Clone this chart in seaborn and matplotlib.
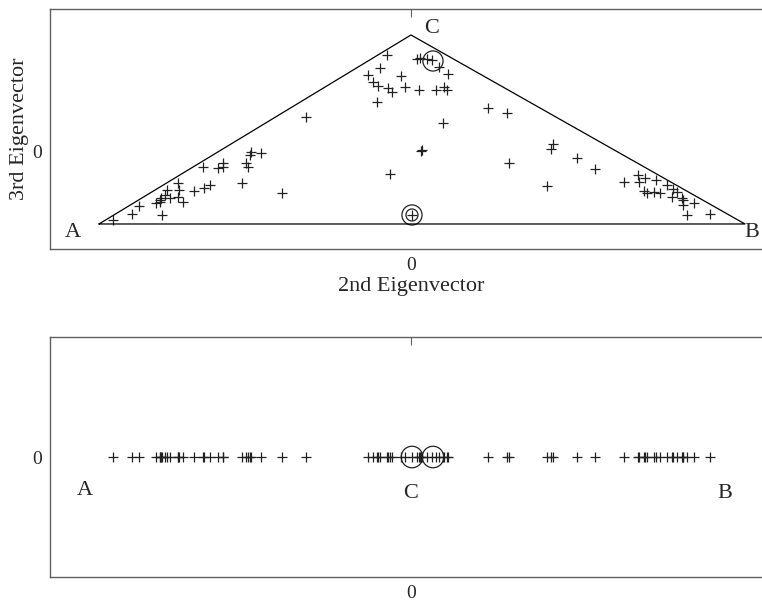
import matplotlib
matplotlib.use("Agg")
import matplotlib.pyplot as plt
import seaborn as sns
import numpy as np
import pandas as pd

# ---- data (2nd / 3rd eigenvector coordinates) ----
ev2 = [-0.298, -0.279, -0.272, -0.255, -0.251, -0.250, -0.251, -0.249, -0.246, -0.244,
       -0.241, -0.233, -0.232, -0.233, -0.228, -0.217, -0.207, -0.201, -0.208, -0.193,
       -0.188, -0.188, -0.169, -0.165, -0.163, -0.161, -0.160, -0.150, -0.129, -0.105,
       -0.024, -0.031, -0.043, -0.038, -0.033, -0.023, -0.019, -0.010, -0.006, -0.034,
       0.006, 0.009, 0.016, 0.021, 0.028, 0.037, 0.008, 0.025, 0.033, 0.036,
       0.032, 0.011, 0.010, -0.021, 0.001,
       0.077, 0.096, 0.098, 0.142, 0.140, 0.136, 0.166, 0.184, 0.213, 0.227,
       0.228, 0.234, 0.233, 0.236, 0.243, 0.245, 0.249, 0.256, 0.262, 0.261,
       0.266, 0.271, 0.272, 0.272, 0.283, 0.276, 0.299]
ev3 = [-0.068, -0.062, -0.054, -0.051, -0.048, -0.046, -0.050, -0.063, -0.043, -0.038,
       -0.046, -0.031, -0.038, -0.045, -0.050, -0.039, -0.036, -0.033, -0.015, -0.016,
       -0.011, -0.015, -0.031, -0.011, -0.015, -0.003, 0.000, -0.001, -0.041, 0.035,
       0.097, 0.084, 0.077, 0.070, 0.066, 0.064, 0.060, 0.076, 0.065, 0.050,
       0.093, 0.094, 0.093, 0.092, 0.085, 0.078, 0.062, 0.062, 0.065, 0.062,
       0.029, 0.002, 0.001, -0.022, -0.063,
       0.044, 0.039, -0.011, 0.008, 0.003, -0.034, -0.006, -0.017, -0.030, -0.023,
       -0.030, -0.026, -0.039, -0.041, -0.040, -0.028, -0.041, -0.033, -0.037, -0.045,
       -0.040, -0.046, -0.048, -0.053, -0.051, -0.063, -0.062]

# triangle vertices A, C, B
vert_names = ["A", "C", "B"]
vert_x = [-0.312, 0.000, 0.334]
vert_y = [-0.072, 0.117, -0.072]

# highlighted points
circ_x = [0.022]
circ_y = [0.091]
dbl_x = [0.001]
dbl_y = [-0.063]
bottom_circ_x = [0.001, 0.022]

# ---- styling ----
sns.set_theme(style="white")
plt.rcParams["font.family"] = ["Liberation Serif", "DejaVu Serif"]
plt.rcParams["mathtext.fontset"] = "stix"

fig = plt.figure(figsize=(7.62, 6.02), dpi=100)
ax1 = fig.add_axes([0.0656, 0.5864, 0.9475, 0.3987])
ax2 = fig.add_axes([0.0656, 0.0415, 0.9475, 0.3987])

spine_col = "#606060"
for ax in (ax1, ax2):
    for s in ax.spines.values():
        s.set_color(spine_col)
        s.set_linewidth(1.0)
    ax.tick_params(direction="in", length=6, width=0.8, color=spine_col,
                   top=True, right=True, labelsize=14, pad=6)
    ax.set_xlim(-0.361, 0.361)
    ax.set_xticks([0])
    ax.set_xticklabels(["0"])
    ax.set_yticks([0])
    ax.set_yticklabels(["0"])

df = pd.DataFrame({"ev2": ev2, "ev3": ev3})

# ---- top panel ----
tri = pd.DataFrame({"x": vert_x + [vert_x[0]], "y": vert_y + [vert_y[0]]})
ax1.plot(tri["x"], tri["y"], color="black", lw=0.9)
sns.scatterplot(data=df, x="ev2", y="ev3", marker="+", s=60, color="#222222",
                linewidth=0.9, ax=ax1, legend=False)
sns.scatterplot(x=circ_x, y=circ_y, marker="o", s=210, facecolor="none",
                edgecolor="#222222", linewidth=0.9, ax=ax1, legend=False)
sns.scatterplot(x=dbl_x, y=dbl_y, marker="o", s=210, facecolor="none",
                edgecolor="#222222", linewidth=0.9, ax=ax1, legend=False)
sns.scatterplot(x=dbl_x, y=dbl_y, marker="o", s=75, facecolor="none",
                edgecolor="#222222", linewidth=0.9, ax=ax1, legend=False)
ax1.set_ylim(-0.097, 0.143)
ax1.set_xlabel("2nd Eigenvector", fontsize=16, labelpad=2)
ax1.set_ylabel("3rd Eigenvector", fontsize=16, labelpad=2)
ax1.text(-0.338, -0.081, "A", fontsize=16, ha="center", va="center")
ax1.text(0.341, -0.081, "B", fontsize=16, ha="center", va="center")
ax1.text(0.021, 0.123, "C", fontsize=16, ha="center", va="center")

# ---- bottom panel ----
df["zero"] = 0.0
sns.scatterplot(data=df, x="ev2", y="zero", marker="+", s=60, color="#222222",
                linewidth=0.9, ax=ax2, legend=False)
sns.scatterplot(x=bottom_circ_x, y=[0.0] * len(bottom_circ_x), marker="o", s=240,
                facecolor="none", edgecolor="#222222", linewidth=0.9, ax=ax2,
                legend=False)
ax2.set_ylim(-1, 1)
ax2.set_xlabel("")
ax2.set_ylabel("")
ax2.text(-0.326, -0.275, "A", fontsize=16, ha="center", va="center")
ax2.text(0.0, -0.30, "C", fontsize=16, ha="center", va="center")
ax2.text(0.314, -0.30, "B", fontsize=16, ha="center", va="center")

fig.savefig("out.png", dpi=100)
